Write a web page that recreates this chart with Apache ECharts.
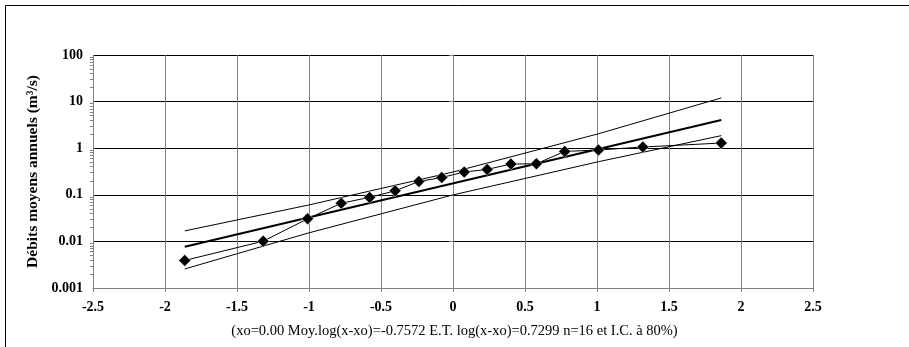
<!DOCTYPE html>
<html>
<head>
<meta charset="utf-8">
<script src="https://cdn.jsdelivr.net/npm/echarts@6/dist/echarts.min.js"></script>
<style>
html,body{margin:0;padding:0;background:#fff;}
#chart{width:909px;height:347px;}
</style>
</head>
<body>
<div id="chart"></div>
<script>
// Normal variable (x) for the 16 ranked observations
var xValues = [-1.863,-1.318,-1.010,-0.776,-0.579,-0.402,-0.237,-0.078,0.078,0.237,0.402,0.579,0.776,1.010,1.318,1.863];
// Observed annual mean discharges (m3/s)
var observed = [0.0039,0.0101,0.0305,0.066,0.088,0.122,0.193,0.235,0.308,0.35,0.457,0.464,0.853,0.914,1.06,1.29];
// Fitted log-normal line (end points)
var fitX = [-1.863, 1.863];
var fitY = [0.0077, 4.04];
// 80% confidence bounds
var ciX = [-1.863, -1.010, 0, 1.010, 1.863];
var upperY = [0.0168, 0.0597, 0.308, 2.04, 12.0];
var lowerY = [0.00256, 0.0150, 0.0995, 0.513, 1.86];
// Axis tick labels
var xTickLabels = ['-2.5','-2','-1.5','-1','-0.5','0','0.5','1','1.5','2','2.5'];
var yTickLabels = ['0.001','0.01','0.1','1','10','100'];
var yMinorTicks = [];
[0.001,0.01,0.1,1,10].forEach(function(d){ for (var k=2;k<=9;k++) yMinorTicks.push(+(d*k).toPrecision(3)); });
var subtitle = '(xo=0.00 Moy.log(x-xo)=-0.7572 E.T. log(x-xo)=0.7299 n=16 et I.C. à 80%)';
var yTitle = 'Débits moyens annuels (m³/s)';

function zip(xs, ys){ return xs.map(function(x,i){ return [x, ys[i]]; }); }

var FONT = '"Liberation Serif", "Times New Roman", serif';
var chart = echarts.init(document.getElementById('chart'), null, {renderer:'canvas'});
chart.setOption({
  animation: false,
  backgroundColor: '#fff',
  title: {
    text: subtitle,
    left: 'center',
    top: 319,
    textStyle: {fontFamily: FONT, fontSize: 14.5, fontWeight: 'normal', color: '#000'}
  },
  graphic: [{
    type: 'rect', silent: true, z: 0,
    shape: {x: 5.5, y: 5.5, width: 1000, height: 1000},
    style: {fill: null, stroke: '#000', lineWidth: 1}
  }],
  grid: {left: 93, top: 55, width: 720, height: 233, containLabel: false},
  xAxis: {
    type: 'value', min: -2.5, max: 2.5, interval: 0.5,
    axisLine: {show: true, onZero: false, lineStyle: {color: '#808080', width: 1}},
    axisTick: {show: true, length: 4, lineStyle: {color: '#808080'}},
    splitLine: {show: true, lineStyle: {color: '#808080', width: 1}},
    axisLabel: {
      fontFamily: FONT, fontSize: 14, fontWeight: 'bold', color: '#000', margin: 12,
      formatter: function(v){ return xTickLabels[Math.round((v + 2.5) / 0.5)]; }
    }
  },
  yAxis: [{
    type: 'log', logBase: 10, min: 0.001, max: 100,
    name: yTitle, nameLocation: 'middle', nameGap: 40,
    nameTextStyle: {fontFamily: FONT, fontSize: 15.5, fontWeight: 'bold', color: '#000'},
    axisLine: {show: true, lineStyle: {color: '#808080', width: 1}},
    axisTick: {show: true, length: 4, lineStyle: {color: '#808080'}},
    splitLine: {show: true, lineStyle: {color: '#000', width: 1}},
    axisLabel: {
      fontFamily: FONT, fontSize: 14, fontWeight: 'bold', color: '#000', margin: 10,
      formatter: function(v){ return yTickLabels[Math.round(Math.log10(v)) + 3]; }
    }
  }, {
    type: 'log', logBase: 10, min: 0.001, max: 100, position: 'left',
    axisLine: {show: false},
    axisLabel: {show: false},
    splitLine: {show: false},
    axisTick: {show: true, length: 3, customValues: yMinorTicks, lineStyle: {color: '#808080'}}
  }],
  series: [{
    type: 'line', data: zip(ciX, upperY), symbol: 'none', smooth: false,
    lineStyle: {color: '#000', width: 1}, z: 2
  }, {
    type: 'line', data: zip(ciX, lowerY), symbol: 'none',
    lineStyle: {color: '#000', width: 1}, z: 2
  }, {
    type: 'line', data: zip(fitX, fitY), symbol: 'none',
    lineStyle: {color: '#000', width: 2}, z: 3
  }, {
    type: 'line', data: zip(xValues, observed),
    symbol: 'diamond', symbolSize: 12,
    itemStyle: {color: '#000', borderColor: '#fff', borderWidth: 0.5},
    lineStyle: {color: '#000', width: 1}, z: 4
  }]
});
</script>
</body>
</html>
